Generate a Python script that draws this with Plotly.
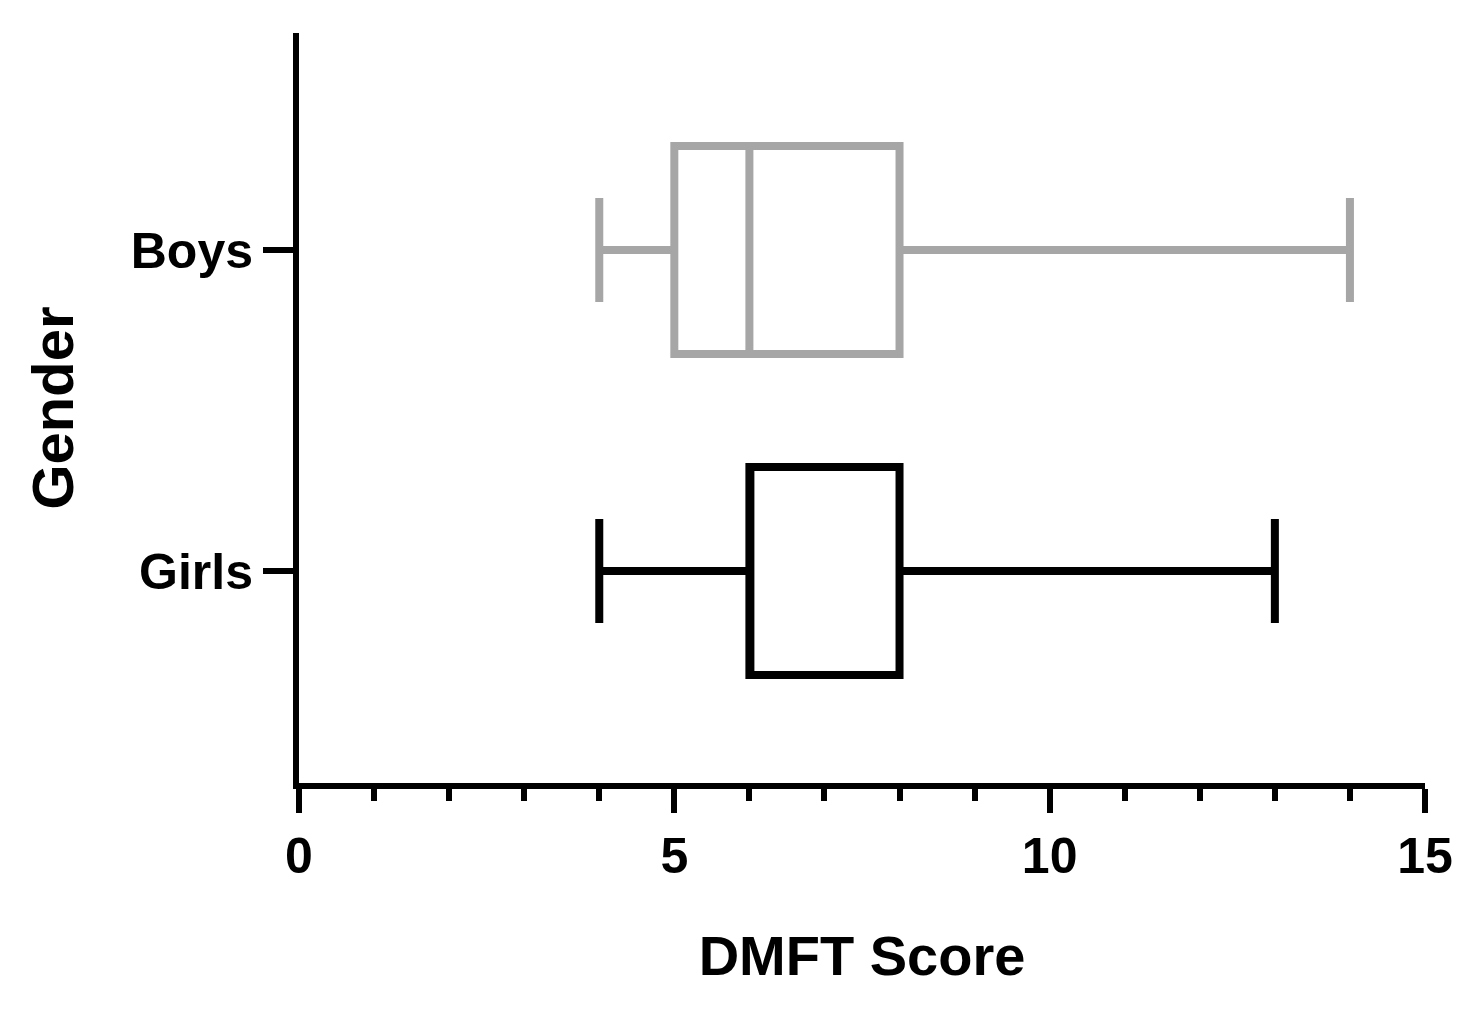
import plotly.graph_objects as go

groups = ["Girls", "Boys"]
colors = ["#000000", "#a6a6a6"]
mins = [4, 4]
q1s = [6, 5]
medians = [6, 6]
q3s = [8, 8]
maxs = [13, 14]

fig = go.Figure()
for g, c, lo, a, m, b, hi in zip(groups, colors, mins, q1s, medians, q3s, maxs):
    fig.add_trace(go.Box(
        y=[g], lowerfence=[lo], q1=[a], median=[m], q3=[b], upperfence=[hi],
        orientation="h", line=dict(color=c, width=8), fillcolor="white",
        width=0.648, whiskerwidth=0.5, boxpoints=False, showlegend=False,
    ))

fig.update_layout(
    width=1480, height=1026,
    margin=dict(l=291, r=63, t=25, b=251),
    plot_bgcolor="white", paper_bgcolor="white",
    font=dict(family="Liberation Sans", size=50, color="black"),
    xaxis=dict(
        range=[0, 15], tickvals=[0, 5, 10, 15], ticks="outside", ticklen=24,
        tickwidth=6, tickcolor="black", showline=True, linewidth=6, linecolor="black",
        showgrid=False, zeroline=False,
        tickfont=dict(family="Liberation Sans", size=50, weight="bold"),
        minor=dict(dtick=1, ticks="outside", ticklen=12, tickwidth=6, tickcolor="black"),
        title=dict(text="<b>DMFT Score</b>", font=dict(size=56), standoff=55),
    ),
    yaxis=dict(
        type="category", categoryorder="array", categoryarray=groups,
        range=[-0.66, 1.676], ticks="outside", ticklen=30, tickwidth=6, tickcolor="black",
        showline=True, linewidth=6, linecolor="black", showgrid=False, zeroline=False,
        tickfont=dict(family="Liberation Sans", size=50, weight="bold"),
        title=dict(text="<b>Gender</b>", font=dict(size=58), standoff=40),
    ),
)
fig.write_html("out.html")
